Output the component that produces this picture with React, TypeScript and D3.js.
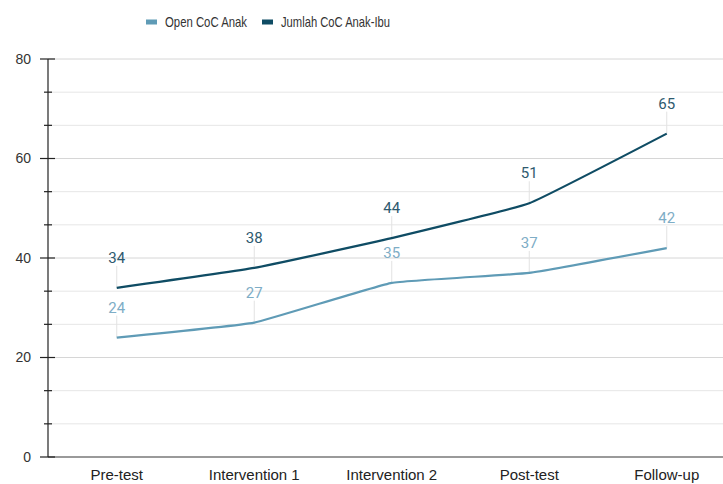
import React from 'react';
import * as d3 from 'd3';

// data
const categories = ['Pre-test', 'Intervention 1', 'Intervention 2', 'Post-test', 'Follow-up'];
const openCoC = [24, 27, 35, 37, 42];
const jumlahCoC = [34, 38, 44, 51, 65];
const majorTicks = [0, 20, 40, 60, 80];
const seriesNames = ['Open CoC Anak', 'Jumlah CoC Anak-Ibu'];

const W = 723, H = 484;
const margin = { top: 59, left: 48, bottom: 27 };

const lightCol = '#5f9bb6';
const darkCol = '#0f4c64';
const lightLabel = '#7eadc6';
const darkLabel = '#2e5a6f';

const App = () => {
  const x = d3.scaleBand().domain(categories).range([margin.left, margin.left + 5 * 137.5]);
  const y = d3.scaleLinear().domain([0, 80]).range([H - margin.bottom, margin.top]);
  const cx = (c: string) => (x(c) as number) + x.bandwidth() / 2;

  // gridlines every 20/3
  const allTicks = d3.range(0, 13).map((i) => (i * 20) / 3);

  const line = d3
    .line<number>()
    .x((d, i) => cx(categories[i]))
    .y((d) => y(d))
    .curve(d3.curveCardinal.tension(0.7));

  const series = [
    { name: seriesNames[0], values: openCoC, color: lightCol, label: lightLabel },
    { name: seriesNames[1], values: jumlahCoC, color: darkCol, label: darkLabel },
  ];

  return (
    <svg width={W} height={H} style={{ position: 'absolute', left: 0, top: 0, background: '#fff' }}>
      {/* gridlines */}
      {allTicks.map((t, i) => (
        <line
          key={'g' + i}
          x1={margin.left}
          x2={W}
          y1={y(t)}
          y2={y(t)}
          stroke={i % 3 === 0 ? '#d6d6d6' : '#e6e6e6'}
          strokeWidth={1}
        />
      ))}
      {/* x baseline */}
      <line x1={margin.left} x2={W} y1={y(0)} y2={y(0)} stroke="#9a9a9a" strokeWidth={2} />
      {/* y axis */}
      <line x1={margin.left} x2={margin.left} y1={y(80)} y2={y(0)} stroke="#222" strokeWidth={1.2} />
      {allTicks.map((t, i) => (
        <line
          key={'t' + i}
          x1={i % 3 === 0 ? margin.left - 8 : margin.left - 4}
          x2={i % 3 === 0 ? margin.left + 7 : margin.left + 4}
          y1={y(t)}
          y2={y(t)}
          stroke="#222"
          strokeWidth={1.2}
        />
      ))}
      {majorTicks.map((t) => (
        <text
          key={'yl' + t}
          x={31}
          y={y(t)}
          dy="0.35em"
          textAnchor="end"
          fontFamily="Liberation Sans, Arial, sans-serif"
          fontSize={14}
          fill="#333"
        >
          {t}
        </text>
      ))}
      {categories.map((c) => (
        <text
          key={'xl' + c}
          x={cx(c)}
          y={475}
          dy="0.35em"
          textAnchor="middle"
          fontFamily="Liberation Sans, Arial, sans-serif"
          fontSize={15}
          fill="#222"
        >
          {c}
        </text>
      ))}
      {/* leader lines and labels */}
      {series.map((s) =>
        s.values.map((v, i) => (
          <g key={s.name + i}>
            <line
              x1={cx(categories[i])}
              x2={cx(categories[i])}
              y1={y(v)}
              y2={y(v) - 22}
              stroke="#e2e2e2"
              strokeWidth={1}
            />
            <text
              x={cx(categories[i])}
              y={y(v) - 25}
              textAnchor="middle"
              fontFamily="Roboto, sans-serif"
              fontSize={15}
              fill={s.label}
            >
              {v}
            </text>
          </g>
        ))
      )}
      {/* lines */}
      {series.map((s) => (
        <path key={s.name} d={line(s.values) || ''} fill="none" stroke={s.color} strokeWidth={2.2} />
      ))}
      {/* legend */}
      <rect x={146} y={19.5} width={11} height={5} fill={lightCol} />
      <text x={165} y={22} dy="0.35em" fontFamily="Liberation Sans, Arial, sans-serif" fontSize={15} fill="#333" textLength={82} lengthAdjust="spacingAndGlyphs">
        {seriesNames[0]}
      </text>
      <rect x={262} y={19.5} width={11} height={5} fill={darkCol} />
      <text x={281} y={22} dy="0.35em" fontFamily="Liberation Sans, Arial, sans-serif" fontSize={15} fill="#333" textLength={109} lengthAdjust="spacingAndGlyphs">
        {seriesNames[1]}
      </text>
    </svg>
  );
};

export default App;
